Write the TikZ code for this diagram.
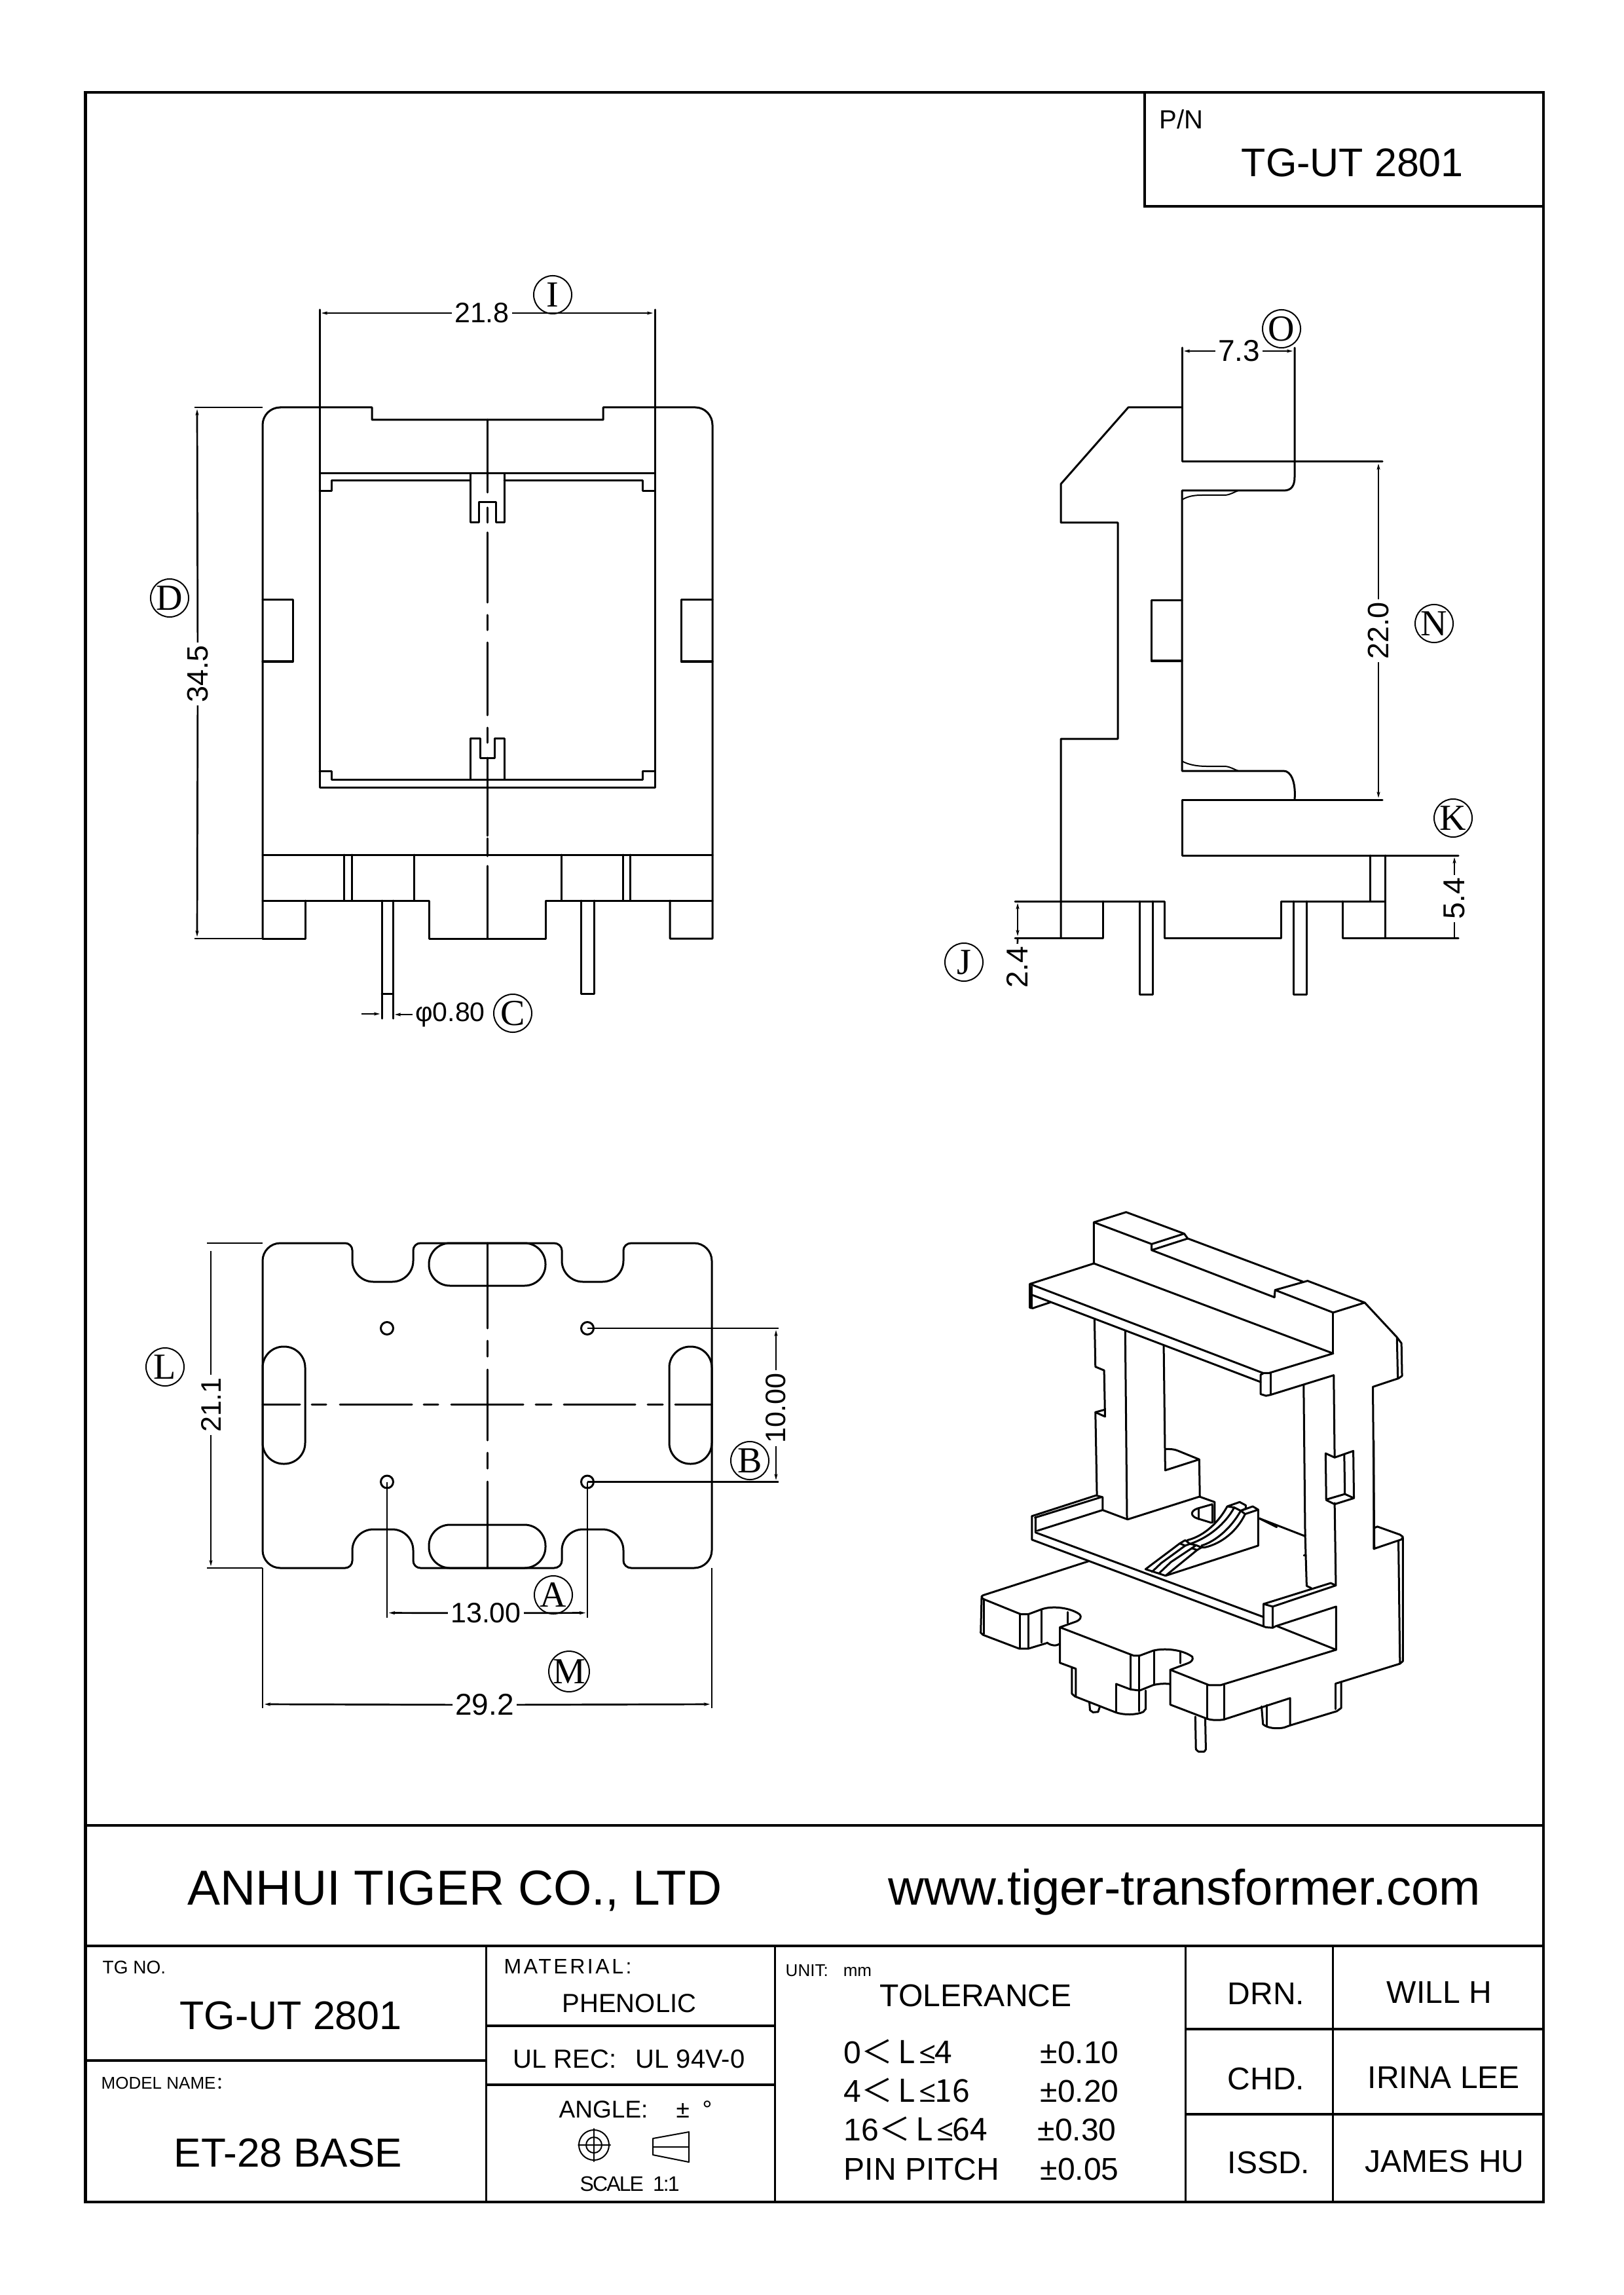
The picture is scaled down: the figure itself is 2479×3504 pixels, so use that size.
\documentclass[tikz,border=0pt]{standalone}
\usepackage{fontspec}
\usetikzlibrary{arrows.meta}
\setmainfont{Liberation Sans}
\newfontfamily\serifl{Liberation Serif}
\newfontfamily\cjk{Noto Sans CJK SC}
\newfontfamily\opens{Open Sans}
\newcommand{\fpx}[1]{\fontsize{\the\dimexpr 0.2845pt*#1\relax}{\the\dimexpr 0.34pt*#1\relax}\selectfont}
\newcommand{\crn}[6]{-- (#1,#2) .. controls ({#1+.55*(#3-#1)},{#2+.55*(#4-#2)}) and ({#5+.55*(#3-#5)},{#6+.55*(#4-#6)}) .. (#5,#6)}
\newcommand{\lle}{\hspace{0.06cm}{\opens\fpx{46}≤}\hspace{-0.02cm}}
\newcommand{\ltc}{\cjk{＜}\hspace{0.08cm}}
\tikzset{
  ln/.style={line width=0.03cm,line join=round,line cap=round},
  fine/.style={line width=0.02cm,line join=round,line cap=round},
  dl/.style={line width=0.027cm},
  dimar/.style={dl,-{Stealth[length=1.6mm,width=0.55mm]}},
  dimar2/.style={dl,{Stealth[length=1.6mm,width=0.55mm]}-{Stealth[length=1.6mm,width=0.55mm]}},
  frm/.style={line width=0.042cm},
  rul/.style={line width=0.03cm},
  tx/.style={inner sep=0pt,anchor=base west},
  dt/.style={inner sep=1pt,anchor=center,font=\fpx{43}},
  circ/.style={draw,circle,line width=0.02cm,inner sep=0pt,minimum size=0.58cm,font=\serifl\fpx{56}},
  zf/.style={shift={(1460,1820)},x=0.004591cm,y=-0.0037cm},
  zg/.style={shift={(1460,2200)},x=0.004591cm,y=-0.003333cm},
  zr/.style={shift={(1730,2270)},x=0.003333cm,y=-0.003333cm},
}
\begin{document}
\begin{tikzpicture}[x=0.01cm,y=-0.01cm]
\useasboundingbox[fill=white] (0,0) rectangle (2479,3504);
%% frame
\draw[frm] (130.5,141) rectangle (2357,3362);
\draw[frm] (1748,141) |- (2357,315);
\draw[frm] (130.5,2787) -- (2357,2787);
\draw[frm] (130.5,2971) -- (2357,2971);
\draw[rul] (742,2971) -- (742,3362);
\draw[rul] (1183,2971) -- (1183,3362);
\draw[rul] (1810.5,2971) -- (1810.5,3362);
\draw[rul] (2035,2971) -- (2035,3362);
\draw[frm] (130.5,3146) -- (742,3146);
\draw[frm] (742,3093) -- (1183,3093);
\draw[frm] (742,3183) -- (1183,3183);
\draw[frm] (1810.5,3098) -- (2357,3098);
\draw[frm] (1810.5,3228) -- (2357,3228);
%% frame text
\node[tx,font=\fpx{40}] (pn) at (1770,197) {P/N};
\node[tx,font=\fpx{61.5}] (pnv) at (1895,270) {TG-UT 2801};
\node[tx,font=\fpx{75.8}] (co) at (286,2908) {ANHUI TIGER CO., LTD};
\node[tx,font=\fpx{76}] (web) at (1356,2908) {www.tiger-transformer.com};
\node[tx,font=\fpx{28}] (tgno) at (156,3013) {TG NO.};
\node[tx,font=\fpx{61.5}] (tgv) at (274,3098) {TG-UT 2801};
\node[tx,font=\fpx{26}] (model) at (154,3189) {MODEL NAME\cjk{：}};
\node[tx,font=\fpx{62.5}] (etb) at (265,3308) {ET-28 BASE};
\node[tx,font=\fpx{32}] (mat) at (769,3013) {\addfontfeature{LetterSpace=11}MATERIAL:};
\node[tx,font=\fpx{40}] (phe) at (858,3072) {PHENOLIC};
\node[tx,font=\fpx{40}] (ulr) at (783,3157) {UL REC:\hspace{0.29cm}UL 94V-0};
\node[tx,font=\fpx{37}] (ang) at (853,3233) {ANGLE:};
\node[tx,font=\fpx{37}] (pm) at (1032,3233) {±};
\node[tx,font=\fpx{37}] (deg) at (1072,3233) {°};
\node[tx,font=\fpx{32}] (sca) at (885,3345) {\addfontfeature{LetterSpace=-6}SCALE\hspace{0.14cm}1:1};
\draw[fine] (907,3275) circle (23);
\draw[fine] (907,3275) circle (12);
\draw[fine] (883,3275) -- (932,3275);
\draw[fine] (907,3250) -- (907,3300);
\draw[fine] (997,3265) -- (1052,3255) -- (1052,3301) -- (997,3290) -- cycle;
\draw[fine] (997,3278) -- (1052,3278);
\node[tx,font=\fpx{26}] (unit) at (1199,3017) {UNIT:\hspace{0.23cm}mm};
\node[tx,font=\fpx{48.5}] (tol) at (1343,3063) {TOLERANCE};
\node[tx,font=\fpx{48}] (r1) at (1288,3150) {0\ltc L\lle4};
\node[tx,font=\fpx{48}] (r2) at (1288,3209) {4\ltc L\lle16};
\node[tx,font=\fpx{48}] (r3) at (1288,3268) {16\ltc L\lle64};
\node[tx,font=\fpx{48}] (r4) at (1288,3328) {PIN PITCH};
\node[tx,font=\fpx{48}] (v1) at (1588,3150) {±0.10};
\node[tx,font=\fpx{48}] (v2) at (1588,3209) {±0.20};
\node[tx,font=\fpx{48}] (v3) at (1584,3268) {±0.30};
\node[tx,font=\fpx{48}] (v4) at (1588,3328) {±0.05};
\node[tx,font=\fpx{48}] (drn) at (1874,3060) {DRN.};
\node[tx,font=\fpx{48}] (chd) at (1874,3190) {CHD.};
\node[tx,font=\fpx{48}] (isd) at (1874,3318) {ISSD.};
\node[tx,font=\fpx{48}] (will) at (2117,3058) {WILL H};
\node[tx,font=\fpx{48}] (irina) at (2088,3188) {IRINA LEE};
\node[tx,font=\fpx{48}] (james) at (2084,3316) {JAMES HU};
%% front view
\draw[ln] (428,622) -- (568,622) -- (568,641) -- (921,641) -- (921,622) \crn{1062}{622}{1088}{622}{1088}{649} -- (1088,1433) -- (1023,1433) -- (1023,1375);
\draw[ln] (401,1433) -- (401,649) .. controls (401,634) and (413,622) .. (428,622);
\draw[ln] (488,723) rectangle (1000,1202);
\draw[ln] (488,473) -- (488,723) (1000,473) -- (1000,723);
\draw[ln] (488,750) -- (506,750) -- (506,734) -- (718,734) (770,734) -- (981,734) -- (981,750) -- (1000,750);
\draw[ln] (488,1177) -- (506,1177) -- (506,1190) -- (981,1190) -- (981,1177) -- (1000,1177);
\draw[ln] (718,723) -- (718,798) -- (731,798) -- (731,767) -- (757,767) -- (757,798) -- (770,798) -- (770,723);
\draw[ln] (718,1190) -- (718,1127) -- (733,1127) -- (733,1157) -- (755,1157) -- (755,1127) -- (770,1127) -- (770,1190);
\draw[ln] (744,641) -- (744,752) (744,775) -- (744,798) (744,813) -- (744,920) (744,939) -- (744,962) (744,981) -- (744,1092) (744,1111) -- (744,1134) (744,1157) -- (744,1276) (744,1280) -- (744,1307) (744,1322) -- (744,1433);
\draw[ln] (401,916) -- (447,916) -- (447,1010) -- (401,1010);
\draw[ln] (1088,916) -- (1040,916) -- (1040,1010) -- (1088,1010);
\draw[ln] (401,1305) -- (1088,1305);
\draw[ln] (401,1375) -- (655,1375) -- (655,1433) -- (833,1433) -- (833,1375) -- (1088,1375);
\draw[ln] (466,1375) -- (466,1433) -- (401,1433);
\draw[ln] (525,1305) -- (525,1375) (537,1305) -- (537,1375) (632,1305) -- (632,1375) (857,1305) -- (857,1375) (951,1305) -- (951,1375) (962,1305) -- (962,1375);
\draw[ln] (583,1375) -- (583,1555) (600,1375) -- (600,1555) (583,1517) -- (600,1517);
\draw[ln] (887,1375) -- (887,1517) -- (907,1517) -- (907,1375);
%% front dims
\node[dt] (t218) at (736,478) {21.8};
\coordinate (a218) at (488,478); \coordinate (b218) at (1000,478);
\draw[dimar] (t218) -- (a218); \draw[dimar] (t218) -- (b218);
\node[dt,font=\fpx{45},rotate=90] (t345) at (302,1029) {34.5};
\coordinate (a345) at (301,622); \coordinate (b345) at (301,1433);
\draw[dimar] (t345) -- (a345); \draw[dimar] (t345) -- (b345);
\draw[dl] (297,622) -- (401,622) (297,1433) -- (401,1433);
\node[dt,font=\fpx{41},anchor=west] (t080) at (630,1549) {φ0.80};
\coordinate (a080) at (583,1548); \coordinate (c080) at (552,1548); \coordinate (b080) at (600,1549);
\draw[dimar] (c080) -- (a080); \draw[dimar] (t080) -- (b080);
\node[circ] (cI) at (844,450) {I};
\node[circ] (cD) at (259,913) {D};
\node[circ] (cC) at (783,1547) {C};
%% side view
\draw[ln] (1805,531) -- (1805,705) -- (2111,705);
\draw[ln] (1805,622) -- (1723,622) -- (1620,739) -- (1620,798) -- (1707,798) -- (1707,1128) -- (1620,1128) -- (1620,1432);
\draw[ln] (1977,531) -- (1977,728) .. controls (1977,742) and (1972,749) .. (1960,749) -- (1805,749) -- (1805,1177) -- (1960,1177) .. controls (1972,1177) and (1979,1195) .. (1977,1221);
\draw[fine] (1805,763) .. controls (1815,757) and (1825,756) .. (1836,756) -- (1871,756) .. controls (1880,755) and (1885,751) .. (1891,749);
\draw[fine] (1805,1162) .. controls (1815,1168) and (1830,1170) .. (1842,1170) -- (1871,1170) .. controls (1880,1171) and (1885,1175) .. (1891,1177);
\draw[ln] (1805,917) -- (1758,917) -- (1758,1009) -- (1805,1009);
\draw[ln] (2111,1221) -- (1805,1221) -- (1805,1306) -- (2227,1306);
\draw[ln] (2092,1306) -- (2092,1376) (2115,1306) -- (2115,1432);
\draw[ln] (1550,1376) -- (1778,1376) -- (1778,1432) -- (1956,1432) -- (1956,1376) -- (2115,1376);
\draw[ln] (1684,1376) -- (1684,1432) -- (1550,1432);
\draw[ln] (2050,1376) -- (2050,1432) -- (2227,1432);
\draw[ln] (1740,1376) -- (1740,1518) -- (1760,1518) -- (1760,1376);
\draw[ln] (1975,1376) -- (1975,1518) -- (1995,1518) -- (1995,1376);
\node[dt,font=\fpx{46}] (t73) at (1892,536) {7.3};
\coordinate (a73) at (1805,536); \coordinate (b73) at (1977,536);
\draw[dimar] (t73) -- (a73); \draw[dimar] (t73) -- (b73);
\node[dt,font=\fpx{45},rotate=90] (t220) at (2105,963) {22.0};
\coordinate (a220) at (2105,705); \coordinate (b220) at (2105,1221);
\draw[dimar] (t220) -- (a220); \draw[dimar] (t220) -- (b220);
\node[dt,font=\fpx{46},rotate=90] (t54) at (2221,1372) {5.4};
\coordinate (a54) at (2221,1306); \coordinate (b54) at (2221,1432);
\draw[dimar] (t54) -- (a54); \draw[dl] (t54) -- (b54);
\node[dt,font=\fpx{46},rotate=90] (t24) at (1553,1477) {2.4};
\coordinate (a24) at (1554,1376); \coordinate (b24) at (1554,1432);
\draw[dimar2] (a24) -- (b24); \draw[dl] (t24) -- (b24);
\node[circ] (cO) at (1957,502) {O};
\node[circ] (cN) at (2190,952) {N};
\node[circ] (cK) at (2219,1249) {K};
\node[circ] (cJ) at (1472,1469) {J};
%% bottom view
\draw[ln] (428,1898) \crn{527}{1898}{538}{1898}{538}{1909} \crn{538}{1925}{538}{1957}{570}{1957} \crn{599}{1957}{631}{1957}{631}{1925} \crn{631}{1909}{631}{1898}{642}{1898}
 \crn{846}{1898}{858}{1898}{858}{1909} \crn{858}{1925}{858}{1957}{890}{1957} \crn{920}{1957}{952}{1957}{952}{1925} \crn{952}{1909}{952}{1898}{964}{1898}
 \crn{1060}{1898}{1087}{1898}{1087}{1925} \crn{1087}{2367}{1087}{2394}{1060}{2394}
 \crn{964}{2394}{952}{2394}{952}{2383} \crn{952}{2367}{952}{2335}{920}{2335} \crn{890}{2335}{858}{2335}{858}{2367} \crn{858}{2383}{858}{2394}{846}{2394}
 \crn{642}{2394}{631}{2394}{631}{2383} \crn{631}{2367}{631}{2335}{599}{2335} \crn{570}{2335}{538}{2335}{538}{2367} \crn{538}{2383}{538}{2394}{527}{2394}
 \crn{428}{2394}{401}{2394}{401}{2367} \crn{401}{1925}{401}{1898}{428}{1898} -- cycle;
\draw[ln,rounded corners=0.32cm] (655,1898) rectangle (833,1963);
\draw[ln,rounded corners=0.32cm] (655,2328) rectangle (833,2394);
\draw[ln,rounded corners=0.32cm] (401,2056) rectangle (466,2235);
\draw[ln,rounded corners=0.32cm] (1022,2056) rectangle (1087,2235);
\draw[ln] (744,1898) -- (744,2028) (744,2047) -- (744,2071) (744,2091) -- (744,2199) (744,2218) -- (744,2242) (744,2262) -- (744,2394);
\draw[ln] (401,2144) -- (458,2144) (476,2144) -- (498,2144) (519,2144) -- (629,2144) (647,2144) -- (669,2144) (689,2144) -- (799,2144) (818,2144) -- (842,2144) (861,2144) -- (970,2144) (989,2144) -- (1012,2144) (1031,2144) -- (1087,2144);
\draw[ln] (591,2028) circle (9.5) (897,2028) circle (9.5) (591,2262.5) circle (9.5) (897,2262.5) circle (9.5);
\draw[dl] (897,2028) -- (1189,2028) (897,2262.5) -- (1189,2262.5);
\draw[dl] (591,2262.5) -- (591,2470) (897,2262.5) -- (897,2470);
\draw[dl] (401,2394) -- (401,2608) (1087,2394) -- (1087,2608);
\draw[dl] (316,1898) -- (401,1898) (316,2394) -- (401,2394);
\node[dt,rotate=90] (t1000) at (1185,2150) {10.00};
\coordinate (a1000) at (1185,2028); \coordinate (b1000) at (1185,2262.5);
\draw[dimar] (t1000) -- (a1000); \draw[dimar] (t1000) -- (b1000);
\node[dt] (t1300) at (742,2463) {13.00};
\coordinate (a1300) at (591,2462.5); \coordinate (b1300) at (897,2462.5);
\draw[dimar] (t1300) -- (a1300); \draw[dimar] (t1300) -- (b1300);
\node[dt,font=\fpx{46}] (t292) at (740,2603) {29.2};
\coordinate (a292) at (401,2602); \coordinate (b292) at (1087,2602);
\draw[dimar] (t292) -- (a292); \draw[dimar] (t292) -- (b292);
\node[dt,rotate=90] (t211) at (322,2145) {21.1};
\coordinate (a211) at (322,1910); \coordinate (b211) at (322,2394);
\draw[dl] (t211) -- (a211); \draw[dimar] (t211) -- (b211);
\node[circ] (cL) at (252,2087) {L};
\node[circ] (cB) at (1145,2230) {B};
\node[circ] (cA) at (845,2435) {A};
\node[circ] (cM) at (869,2552) {M};
%% isometric, upper part
\begin{scope}[zf]
\draw[ln] (458,295) -- (458,125) -- (565,83) -- (758,172) -- (770,192) -- (1152,370);
\draw[ln] (458,125) -- (650,215) -- (758,172);
\draw[ln] (650,215) -- (650,240) -- (770,192);
\draw[ln] (650,240) -- (1058,435) -- (1060,405) -- (1168,367) -- (1358,457) -- (1253,498) -- (1060,405);
\draw[ln] (1253,498) -- (1253,667);
\draw[ln] (245,380) -- (458,295) -- (1253,667) -- (1040,748) -- (1020,748) -- cycle;
\draw[ln] (245,380) -- (245,478) -- (255,480) -- (315,455);
\draw[ln] (252,425) -- (1012,785);
\draw[ln] (252,390) -- (252,478);
\draw[ln] (1020,750) -- (1012,755) -- (1012,835) -- (1030,842) -- (1045,838) -- (1255,757);
\draw[ln] (1045,750) -- (1045,838);
\draw[ln] (1255,757) -- (1258,1097);
\draw[ln] (1155,797) -- (1160,1420);
\draw[ln] (1358,457) -- (1465,600) -- (1480,625) -- (1482,760) -- (1470,770) -- (1385,805) -- (1390,1475);
\draw[ln] (1465,600) -- (1468,770);
\draw[ln] (1228,1080) -- (1258,1097) -- (1320,1070) -- (1322,1265) -- (1258,1290) -- (1230,1273) -- cycle;
\draw[ln] (1290,1085) -- (1292,1248) -- (1232,1270);
\draw[ln] (1292,1248) -- (1322,1265);
\draw[ln] (460,527) -- (463,722) -- (492,737) -- (495,928) -- (463,910) -- (468,1250);
\draw[ln] (463,910) -- (492,900);
\draw[ln] (562,575) -- (568,1352);
\draw[ln] (690,637) -- (695,1150) -- (808,1105) -- (735,1068) .. controls (725,1063) and (715,1062) .. (695,1062);
\draw[ln] (808,1105) -- (810,1255);
\end{scope}
%% isometric, lower part
\begin{scope}[zg]
\draw[ln] (810,255) -- (570,360) -- (487,317) -- (270,412);
\draw[ln] (252,345) -- (465,250) -- (487,258) -- (487,317);
\draw[ln] (262,352) -- (482,258);
\draw[ln] (252,345) -- (252,453) -- (1030,855) -- (1052,857) -- (1062,850) -- (1263,760) -- (1263,958);
\draw[ln] (264,350) -- (264,420) -- (1022,808);
\draw[ln] (1022,748) -- (1022,850);
\draw[ln] (1052,760) -- (1052,857);
\draw[ln] (1022,748) -- (1245,652) -- (1262,663) -- (1052,760) -- cycle;
\draw[ln] (1007,355) -- (1160,437);
\draw[ln] (440,552) -- (90,708) .. controls (84,712) and (84,718) .. (90,725) -- (215,795) -- (240,795) -- (285,772) .. controls (320,755) and (380,765) .. (410,795) .. controls (420,810) and (410,822) .. (400,828) -- (345,855) -- (590,985) -- (610,985) -- (655,962) .. controls (690,950) and (750,955) .. (785,990) .. controls (790,1005) and (780,1015) .. (770,1020) -- (712,1050) -- (840,1120) -- (880,1120) -- (1263,958) -- (1067,850);
\draw[ln] (1388,0) -- (1388,495) -- (1480,452) -- (1485,440) -- (1475,430) -- (1400,393) -- (1388,400);
\draw[ln] (1485,445) -- (1485,1010) -- (1475,1022) -- (1262,1113);
\draw[ln] (1470,460) -- (1475,1020);
\draw[ln] (1160,430) -- (1165,665) -- (1180,675);
\draw[ln] (1258,285) -- (1262,662);
\fill (1158,525) circle (5);
\draw[ln] (85,712) -- (82,880) -- (90,890) -- (210,953) -- (240,953) -- (300,928);
\draw[ln] (92,725) -- (92,885);
\draw[ln] (212,795) -- (212,950) (240,795) -- (240,950) (285,775) -- (285,925);
\draw[ln] (372,785) -- (372,835);
\draw[ln] (302,925) .. controls (315,940) and (335,942) .. (345,930);
\draw[ln] (345,855) -- (345,1018) -- (398,1045) -- (398,1170);
\draw[ln] (385,1040) -- (385,1160) -- (395,1172) -- (530,1245) .. controls (555,1258) and (600,1258) .. (622,1243) -- (630,1230) -- (630,1145);
\draw[ln] (532,1115) -- (532,1245);
\draw[ln] (532,1115) -- (580,1140) -- (610,1145) -- (655,1120) .. controls (675,1113) and (695,1113) .. (710,1115);
\draw[ln] (580,985) -- (580,1140) (608,985) -- (608,1240) (658,965) -- (658,1115);
\draw[ln] (745,965) -- (745,1020);
\draw[ln] (712,1050) -- (712,1210) -- (835,1275) .. controls (850,1282) and (875,1282) .. (890,1278) -- (1110,1180) -- (1110,1305) -- (1090,1315) .. controls (1065,1322) and (1035,1318) .. (1020,1300) -- (1015,1218);
\draw[ln] (835,1120) -- (835,1275);
\draw[ln] (890,1120) -- (890,1278);
\draw[ln] (1032,1212) -- (1032,1305);
\draw[ln] (1110,1305) -- (1265,1240) -- (1280,1225) -- (1280,1105);
\draw[ln] (1262,1113) -- (1262,1230);
\draw[ln] (795,1265) -- (797,1415) -- (805,1425) -- (825,1425) -- (830,1415) -- (828,1275);
\draw[ln] (443,1200) -- (445,1235) -- (455,1245) -- (472,1243) -- (478,1218);
\end{scope}
%% ramp detail
\begin{scope}[zr]
\draw[ln] (305,45) -- (375,70) -- (375,165);
\draw[ln] (365,85) -- (365,165);
\draw[ln] (365,80) -- (295,100) .. controls (262,112) and (265,135) .. (295,145) -- (360,165);
\draw[ln] (303,100) -- (303,148);
\draw[ln] (433,90) -- (490,70) -- (518,85) -- (518,100) -- (495,110) -- (465,95) -- cycle;
\draw[ln] (495,110) -- (550,90) -- (575,105) -- (515,125) -- cycle;
\draw[ln] (575,105) -- (575,270) -- (150,408);
\draw[ln] (580,145) -- (660,185);
\draw[ln] (433,90) .. controls (395,160) and (330,225) .. (250,245);
\draw[ln] (465,95) .. controls (425,170) and (345,235) .. (262,262);
\draw[ln] (495,110) .. controls (450,190) and (380,250) .. (315,270);
\draw[ln] (515,125) .. controls (480,200) and (410,260) .. (330,278) -- (315,278);
\draw[ln] (215,260) -- (240,245) -- (262,262) -- (240,270) -- cycle;
\draw[ln] (270,282) -- (290,268) -- (315,278) -- (295,290) -- cycle;
\draw[ln] (262,262) -- (290,268);
\draw[ln] (215,260) -- (58,378) -- (150,408);
\draw[ln] (240,270) -- (130,350) -- (88,390);
\draw[ln] (270,282) -- (175,345) -- (120,397);
\draw[ln] (295,290) -- (150,408);
\end{scope}
\end{tikzpicture}
\end{document}
